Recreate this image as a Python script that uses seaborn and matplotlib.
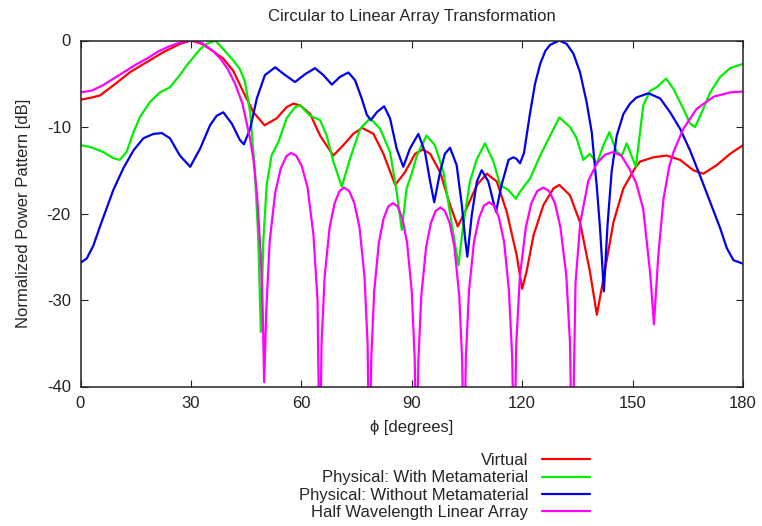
import pandas as pd
import matplotlib
matplotlib.use("Agg")
import matplotlib.pyplot as plt
import seaborn as sns

# angle phi [deg] and normalized power [dB]
phi_virtual = [0, 3, 5.3, 8.9, 13.5, 18, 22.5, 27, 30, 33, 35.2, 38.8, 41.5, 44.3, 47, 50,
               53.3, 56, 57.8, 59.7, 62.4, 65.1, 68.7, 71.4, 74.1, 76.5, 79.6, 82.3, 85.5,
               88.2, 90.9, 93.0, 95, 97.7, 100.4, 102.5, 104.9, 107.7, 110.4, 113.1, 115.8,
               118.5, 120.0, 121.2, 123.1, 125.8, 128.5, 130.1, 133, 135.7, 138.4, 140.3,
               142.1, 144.8, 147.5, 150.6, 152, 155.7, 159.3, 162.9, 166.5, 169.2, 172.9,
               176.5, 180]
db_virtual = [-6.85, -6.6, -6.35, -5.2, -3.65, -2.5, -1.35, -0.4, 0, -0.4, -1.0, -2.1, -3.5,
              -6.0, -8.3, -9.8, -9.0, -7.7, -7.3, -7.5, -8.5, -11.0, -13.3, -12.1, -10.8,
              -10.1, -10.8, -13.1, -16.7, -15.2, -13.1, -12.6, -13.1, -15.2, -19.0, -21.5,
              -19.4, -16.7, -15.4, -16.3, -19.8, -24.8, -28.7, -26.7, -22.5, -19.0, -17.1,
              -16.7, -17.9, -21.0, -26.7, -31.7, -27.5, -21.0, -17.1, -14.8, -14.0, -13.5,
              -13.3, -13.8, -15.0, -15.4, -14.4, -13.1, -12.1]

phi_with_meta = [0, 2.6, 6.2, 8.9, 10.7, 12.5, 14.4, 16.2, 18.9, 21.6, 24.3, 27, 28.8, 29.8,
                 32.5, 34.3, 36.6, 38.8, 41.5, 43.3, 44.7, 46.1, 47.4, 48.3, 49.0, 49.7, 50.6,
                 51.9, 53.8, 56, 58.3, 59.7, 61, 62.4, 65.1, 66.9, 68.7, 71.0, 73.2, 76.0,
                 78.7, 81.4, 84.1, 85.9, 87.3, 88.6, 89.7, 91.4, 94.0, 96.3, 98.6, 100.9,
                 102.7, 104.0, 105.8, 107.7, 109.9, 112.2, 114.0, 116.3, 118.3, 119.4, 120.8,
                 122.1, 124.9, 127.6, 130.1, 133.0, 134.8, 136.6, 138.4, 140.3, 142.1, 143.7,
                 145.7, 147.1, 148.4, 150.9, 152.9, 154.8, 156.6, 159.1, 161.1, 163.8, 165.6,
                 167.0, 168.8, 171.1, 173.8, 176.5, 180]
db_with_meta = [-12.1, -12.3, -12.9, -13.6, -13.8, -12.9, -10.6, -8.8, -7.1, -6.0, -5.4, -4.0,
                -2.9, -2.4, -1.0, -0.4, 0, -1.0, -2.3, -3.3, -4.8, -8.3, -15.2, -22.9, -33.7,
                -22.9, -16.7, -13.3, -11.7, -9.0, -7.7, -7.5, -8.1, -8.7, -9.2, -11.0, -14.0,
                -16.9, -13.7, -10.2, -9.0, -10.2, -12.9, -17.5, -21.9, -17.1, -15.8, -13.3,
                -11.0, -12.1, -15.2, -21.3, -26.0, -21.3, -16.3, -13.7, -11.9, -14.0, -16.7,
                -17.3, -18.3, -17.5, -16.7, -16.0, -13.3, -11.0, -8.9, -10.0, -11.3, -13.8,
                -13.1, -14.2, -12.1, -10.6, -12.9, -13.3, -11.9, -14.6, -7.5, -5.8, -5.4,
                -4.4, -5.6, -7.9, -9.6, -10.0, -8.3, -6.0, -4.2, -3.2, -2.7]

phi_without_meta = [0, 1.7, 3.5, 5.3, 7.1, 8.9, 11.6, 14.4, 17.1, 19.8, 22.1, 24.3, 27.0, 29.8,
                    32.5, 35.2, 37.0, 38.8, 41.1, 43.3, 44.4, 46.1, 47.9, 50.1, 52.9, 55.6,
                    58.3, 61.0, 63.7, 66.0, 68.3, 70.5, 72.8, 74.6, 76.4, 77.8, 78.9, 80.5,
                    82.5, 84.1, 85.9, 87.7, 89.5, 91.8, 93.6, 95.0, 96.1, 97.7, 99.0, 100.4,
                    102.2, 103.6, 104.5, 105.1, 106.3, 107.7, 109.0, 110.8, 112.2, 112.9,
                    114.4, 116.3, 117.6, 118.5, 119.4, 120.5, 122.1, 123.5, 124.9, 126.3,
                    127.6, 130.1, 132.1, 133.9, 135.7, 137.5, 138.9, 140.3, 141.2, 142.2,
                    143.2, 144.3, 145.7, 147.5, 149.3, 151.0, 154.3, 157.5, 160.2, 162.9,
                    165.6, 168.3, 171.1, 173.8, 175.6, 177.4, 180]
db_without_meta = [-25.7, -25.2, -23.7, -21.5, -19.4, -17.3, -14.8, -12.7, -11.3, -10.8, -10.7,
                   -11.3, -13.3, -14.6, -12.5, -9.8, -8.7, -8.3, -9.6, -11.5, -12.0, -10.2,
                   -6.7, -4.0, -3.1, -4.0, -4.8, -3.9, -3.2, -4.0, -5.1, -4.2, -3.7, -4.6,
                   -6.7, -8.6, -9.2, -8.3, -7.6, -9.0, -12.5, -14.6, -12.5, -10.8, -12.9,
                   -16.3, -18.7, -15.2, -13.1, -12.4, -14.4, -19.0, -22.9, -25.0, -20.2,
                   -16.3, -15.0, -16.3, -18.7, -19.8, -16.7, -13.8, -13.5, -13.7, -14.2,
                   -13.0, -8.5, -5.0, -2.7, -1.2, -0.5, 0, -0.4, -1.5, -3.65, -7.1, -10.6,
                   -17.0, -22.0, -29.0, -21.3, -15.2, -11.0, -8.5, -7.3, -6.6, -6.1, -6.7,
                   -8.3, -10.2, -12.7, -15.6, -18.7, -21.7, -24.0, -25.4, -25.8]

phi_linear = [0, 3, 6, 9, 12, 15, 18, 21, 24, 27, 30, 33, 36, 38, 40, 42, 44, 46, 47, 48, 49,
              49.5, 49.9,
              50.5, 51.4, 52.9, 54.4, 55.9, 57.2, 58.6, 60.1, 61.7, 63.3, 64.4, 65.0,
              65.5, 66.35, 67.7, 69.05, 70.4, 71.6, 73.0, 74.4, 75.8, 77.15, 78.0, 78.5,
              79.0, 79.8, 81.06, 82.34, 83.62, 84.9, 86.18, 87.46, 88.74, 90.0, 90.8, 91.3,
              91.8, 92.6, 93.9, 95.2, 96.5, 97.8, 99.0, 100.3, 101.6, 102.9, 103.7, 104.2,
              104.7, 105.56, 106.9, 108.3, 109.6, 111.0, 112.4, 113.7, 115.1, 116.4, 117.3, 117.8,
              118.4, 119.4, 121.0, 122.5, 124.1, 125.7, 127.3, 128.9, 130.4, 132.0, 133.0, 133.6,
              134.5, 135.8, 138.0, 140.3, 142.5, 144.7, 146.9, 149.1, 151.0, 152.9, 154.8, 155.8,
              157.0, 158.4, 160.0, 161.1, 163.8, 167.4, 172.0, 176.5, 180]
db_linear = [-6.0, -5.8, -5.2, -4.4, -3.6, -2.8, -2.1, -1.3, -0.7, -0.25, 0, -0.3, -1.2, -2.1,
             -3.3, -5.0, -7.3, -11.2, -13.8, -18.0, -25.0, -31.0, -39.5,
             -31, -23.2, -17.6, -14.8, -13.4, -13.0, -13.3, -14.5, -17.0, -22.5, -30, -50,
             -35, -27.2, -21.6, -18.8, -17.4, -17.0, -17.4, -18.8, -21.6, -27.2, -35, -50,
             -36.8, -29.0, -23.4, -20.6, -19.2, -18.8, -19.2, -20.6, -23.4, -29.0, -36.8, -50,
             -37, -29.5, -23.9, -21.1, -19.7, -19.3, -19.7, -21.1, -23.9, -29.5, -37, -50,
             -36.7, -28.9, -23.3, -20.5, -19.1, -18.7, -19.1, -20.5, -23.3, -28.9, -36.7, -50,
             -35, -27.2, -21.6, -18.8, -17.4, -17.0, -17.4, -18.8, -21.6, -27.2, -35, -50,
             -28, -21, -16.2, -14.2, -13.2, -12.9, -13.3, -14.8, -16.5, -19.5, -27.0, -32.8,
             -24.8, -18.3, -14.5, -12.9, -10.2, -7.9, -6.5, -6.0, -5.9]

names = ["Virtual", "Physical: With Metamaterial", "Physical: Without Metamaterial",
         "Half Wavelength Linear Array"]
colors = ["#ff0000", "#00ee00", "#0000ee", "#ff00ff"]

series = zip(names, [phi_virtual, phi_with_meta, phi_without_meta, phi_linear],
             [db_virtual, db_with_meta, db_without_meta, db_linear])
df = pd.concat([pd.DataFrame({"phi": p, "dB": d, "curve": n}) for n, p, d in series])

sns.set_style("ticks")
plt.rcParams["font.family"] = ["Liberation Sans", "DejaVu Sans"]
plt.rcParams["axes.unicode_minus"] = False

fs = 12
fig = plt.figure(figsize=(7.62, 5.26), dpi=100)
ax = fig.add_axes([80.5 / 762, 1 - 386.5 / 526, 662.5 / 762, 346 / 526])
sns.lineplot(data=df, x="phi", y="dB", hue="curve", hue_order=names, palette=colors,
             estimator=None, sort=True, linewidth=1.6, ax=ax)

ax.set_xlim(0, 180)
ax.set_ylim(-40, 0)
ax.set_xticks(range(0, 181, 30))
ax.set_yticks(range(-40, 1, 10))
ax.tick_params(direction="in", top=True, right=True, length=5, width=0.8,
               labelsize=fs, colors="#222222", pad=7)
for s in ax.spines.values():
    s.set_linewidth(1.1)
    s.set_color("#222222")

ax.set_xlabel("ϕ [degrees]", fontsize=fs, labelpad=6)
ax.set_ylabel("Normalized Power Pattern [dB]", fontsize=fs, labelpad=11)
ax.set_title("Circular to Linear Array Transformation", fontsize=fs, pad=14)

handles, labels = ax.get_legend_handles_labels()
ax.legend(handles, labels, loc="upper right", bbox_to_anchor=(590 / 762, 1 - 453 / 526),
          bbox_transform=fig.transFigure, frameon=False, markerfirst=False,
          handlelength=2.9, handletextpad=0.8, labelspacing=0.14, fontsize=fs,
          borderpad=0, borderaxespad=0)

fig.savefig("out.png", dpi=100)
